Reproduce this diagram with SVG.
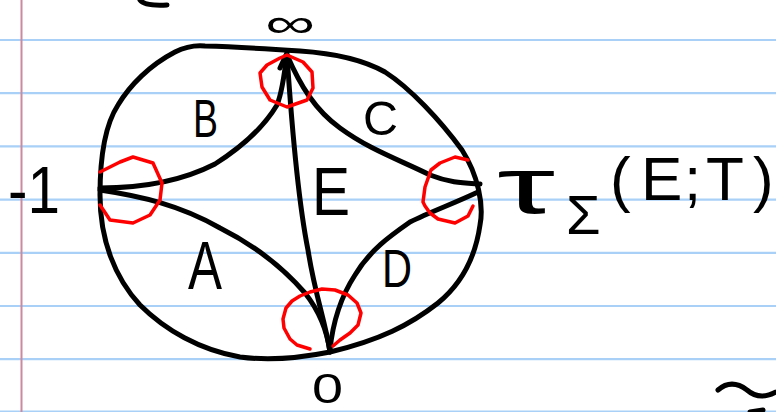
<svg xmlns="http://www.w3.org/2000/svg" width="776" height="412" viewBox="0 0 776 412">
<style>
.rule{stroke:#a9d1f7;stroke-width:2.2;fill:none}
.margin{stroke:#c98ba0;stroke-width:2;fill:none}
.ink{stroke:#000;stroke-width:5;fill:none;stroke-linecap:round;stroke-linejoin:round}
.red{stroke:#f00;stroke-width:3.5;fill:none;stroke-linecap:round;stroke-linejoin:round}
.lbl{font-family:"Liberation Sans","DejaVu Sans",sans-serif;fill:#000}
</style>
<rect width="776" height="412" fill="#fff"/>
<g id="paper">
<path class="rule" d="M0,40H776M0,93.2H776M0,146.4H776M0,199.6H776M0,252.8H776M0,306H776M0,359.2H776M0,411.5H776"/>
<path class="margin" d="M21.5,0V412"/>
</g>
<g id="fragments">
<path class="ink" d="M140,0 C143,4 150,6 167,5"/>
<path class="ink" d="M718,390 C725,384 735,381 747,390 C755,397 765,398 776,392"/>
<path class="ink" d="M750,412 L763,410"/>
</g>
<g id="disk">
<path class="ink" d="M100,195 C100,160 105,125 118,105 C130,85 150,65 175,52 C185,47 195,45 205,46 C240,47 270,49 300,51 C330,53 360,58 385,72 C410,88 440,120 462,150 C478,175 484,205 480,225 C475,260 460,285 438,303 C410,325 380,340 330,352 C300,358 270,361 240,357 C200,350 165,330 140,305 C115,278 100,240 100,195 Z"/>
</g>
<g id="connectors">
<path class="ink" d="M100,188 C140,188 180,182 215,164 C245,145 265,125 277,105 C283,90 285,70 287,52"/>
<path class="ink" d="M287,55 C300,85 315,110 340,128 C370,150 400,160 430,175 C450,183 465,183 480,184"/>
<path class="ink" d="M100,190 C140,196 180,205 220,228 C260,248 285,270 305,293 C320,312 327,330 330,352"/>
<path class="ink" d="M287,55 C292,130 298,200 308,250 C315,295 325,320 330,352"/>
<path class="ink" d="M330,350 C333,320 342,295 355,275 C370,250 390,236 410,222 C430,212 455,203 478,192"/>
<path class="ink" d="M280,68 L286,55"/>
</g>
<g id="circle-inf"><path class="red" d="M287,55 L303,62 L312,72 L313,88 L307,100 L287,107 L270,100 L262,87 L260,73 L267,65 L280,58 Z"/></g>
<g id="circle-m1"><path class="red" d="M100,172 L120,162 L133,157 L153,163 L162,183 L160,200 L150,215 L133,223 L110,220 L100,205"/></g>
<g id="circle-tau"><path class="red" d="M468,160 L455,157 L440,163 L431,170 L425,187 L423,202 L425,206 L430,213 L438,219 L455,223 L468,216 L473,206"/></g>
<g id="circle-0"><path class="red" d="M310,349 L297,345 L290,339 L284,328 L283,319 L286,308 L292,301 L300,296 L310,292 L322,289 L335,290 L348,295 L357,303 L361,313 L358,325 L350,333 L340,340 L333,346"/></g>
<g id="labels">
<text id="lbl-inf" class="lbl" x="265" y="37" font-size="40" textLength="50" lengthAdjust="spacingAndGlyphs" font-family="DejaVu Sans">∞</text>
<text id="lbl-B" class="lbl" x="193" y="137" font-size="54" textLength="25" lengthAdjust="spacingAndGlyphs">B</text>
<text id="lbl-C" class="lbl" x="363" y="135" font-size="49" textLength="35" lengthAdjust="spacingAndGlyphs">C</text>
<text id="lbl-E" class="lbl" x="312" y="215" font-size="68" textLength="38" lengthAdjust="spacingAndGlyphs">E</text>
<text id="lbl-m1" class="lbl" x="8" y="213" font-size="66" textLength="52" lengthAdjust="spacingAndGlyphs">-1</text>
<text id="lbl-A" class="lbl" x="188" y="289" font-size="68" textLength="34" lengthAdjust="spacingAndGlyphs">A</text>
<text id="lbl-D" class="lbl" x="382" y="287" font-size="54" textLength="30" lengthAdjust="spacingAndGlyphs">D</text>
<text id="lbl-0" class="lbl" x="312" y="403" font-size="42" textLength="31" lengthAdjust="spacingAndGlyphs">0</text>
<text id="lbl-tau" class="lbl" y="213" font-size="62"><tspan x="497" font-size="80" textLength="58" lengthAdjust="spacingAndGlyphs">τ</tspan><tspan x="566" y="234" font-size="56">Σ</tspan><tspan x="610" y="200">(</tspan><tspan x="641">E</tspan><tspan x="684">;</tspan><tspan x="706">T</tspan><tspan x="753">)</tspan></text>
</g>
</svg>
